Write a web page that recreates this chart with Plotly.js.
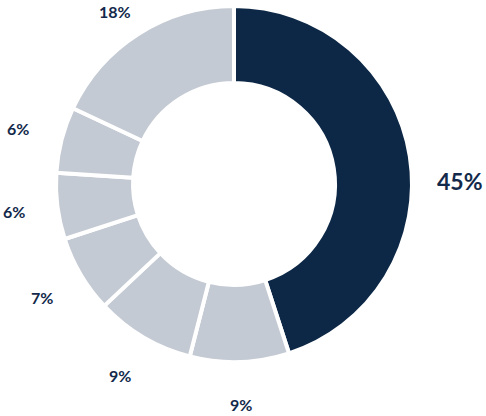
<!DOCTYPE html>
<html>
<head>
<meta charset="utf-8">
<script src="https://cdn.plot.ly/plotly-3.0.1.min.js"></script>
<style>html,body{margin:0;padding:0;background:#fff;}#chart{width:486px;height:416px;}</style>
</head>
<body>
<div id="chart"></div>
<script>
var categories = ["A", "B", "C", "D", "E", "F", "G"];
var values = [45, 9, 9, 7, 6, 6, 18];
var labelsText = ["45%", "9%", "9%", "7%", "6%", "6%", "18%"];

var W = 486, H = 416;
var cx = 234, cy = 184, R = 178;
var navy = "#0d2846", grey = "#c4cad3", textColor = "#13294b";

var colors = values.map(function (v, i) { return i === 0 ? navy : grey; });

var total = values.reduce(function (a, b) { return a + b; }, 0);
var annotations = [];
var cum = 0;
values.forEach(function (v, i) {
  var mid = (cum + v / 2) / total * 2 * Math.PI;
  cum += v;
  var rl = 223;
  var px = cx + rl * Math.sin(mid);
  var py = cy - rl * Math.cos(mid);
  if (i === 0) { py = cy - 3; px = cx + 226; }
  py = Math.max(11, Math.min(404, py));
  px = Math.max(14, px);
  annotations.push({
    x: px / W, y: 1 - py / H, xref: "paper", yref: "paper",
    text: "<b>" + labelsText[i] + "</b>", showarrow: false, xanchor: "center", yanchor: "middle",
    font: {family: "Lato, 'Open Sans', sans-serif", size: i === 0 ? 23 : 16, color: textColor}
  });
});

var trace = {
  type: "pie",
  labels: categories,
  values: values,
  hole: 101 / 178,
  sort: false,
  direction: "clockwise",
  rotation: 0,
  textinfo: "none",
  hoverinfo: "none",
  marker: {colors: colors, line: {color: "#ffffff", width: 4}},
  domain: {x: [(cx - R) / W, (cx + R) / W], y: [1 - (cy + R) / H, 1 - (cy - R) / H]}
};

Plotly.newPlot("chart", [trace], {
  width: W, height: H,
  margin: {l: 0, r: 0, t: 0, b: 0},
  showlegend: false,
  paper_bgcolor: "#ffffff",
  annotations: annotations
}, {displayModeBar: false, staticPlot: true});
</script>
</body>
</html>
